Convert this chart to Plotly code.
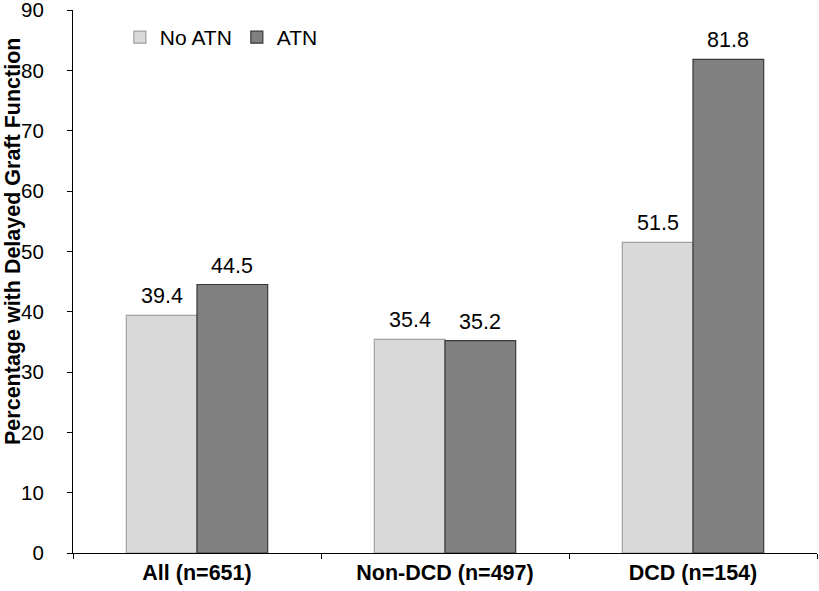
import plotly.graph_objects as go

categories = ["All (n=651)", "Non-DCD (n=497)", "DCD (n=154)"]
no_atn = [39.4, 35.4, 51.5]
atn = [44.5, 35.2, 81.8]
series_names = ["No ATN", "ATN"]
y_title = "Percentage with Delayed Graft Function"

FONT = "Liberation Sans, Arial, sans-serif"

fig = go.Figure()
fig.add_trace(go.Bar(
    x=categories, y=no_atn, name=series_names[0],
    marker=dict(color="#d9d9d9", line=dict(color="#a0a0a0", width=1.2)),
))
fig.add_trace(go.Bar(
    x=categories, y=atn, name=series_names[1],
    marker=dict(color="#808080", line=dict(color="#383838", width=1.2)),
))

annotations = []
for series, shift in ((no_atn, -35.4), (atn, 35.4)):
    for cat, v in zip(categories, series):
        annotations.append(dict(
            x=cat, y=v, xref="x", yref="y", text=f"{v:.1f}",
            xanchor="center", yanchor="bottom", xshift=shift, yshift=5,
            showarrow=False, font=dict(size=21.5, family=FONT, color="#000000"),
        ))
annotations.append(dict(
    text=f"<b>{y_title}</b>", xref="paper", yref="paper",
    x=-0.0805, y=0.573, xanchor="center", yanchor="middle",
    textangle=-90, showarrow=False, font=dict(size=21.5, family=FONT),
))

fig.update_layout(
    width=819, height=591,
    margin=dict(l=73, r=2, t=10, b=38, autoexpand=False),
    paper_bgcolor="white", plot_bgcolor="white",
    barmode="group", bargap=0.43, bargroupgap=0,
    font=dict(family=FONT, size=21, color="#000000"),
    legend=dict(orientation="h", x=0.063, y=0.987, xanchor="left", yanchor="top",
                font=dict(size=21), bgcolor="rgba(0,0,0,0)",
                itemwidth=30, tracegroupgap=0, traceorder="normal"),
    showlegend=True,
    annotations=annotations,
)
fig.update_xaxes(
    automargin=False,
    showline=True, linecolor="#000000", linewidth=1,
    ticks="outside", ticklen=5, tickcolor="#000000", tickson="boundaries",
    tickfont=dict(size=21.5, family=FONT, weight="bold"),
    showgrid=False,
)
fig.update_yaxes(
    automargin=False, ticklabeloverflow="allow",
    range=[0, 90], dtick=10,
    showline=True, linecolor="#000000", linewidth=1,
    ticks="outside", ticklen=5, tickcolor="#000000", ticklabelstandoff=19,
    tickfont=dict(size=20.5),
    showgrid=False, zeroline=False,
)

fig.write_html("out.html", config={"displayModeBar": False},
               post_script="document.body.style.margin='0';")
